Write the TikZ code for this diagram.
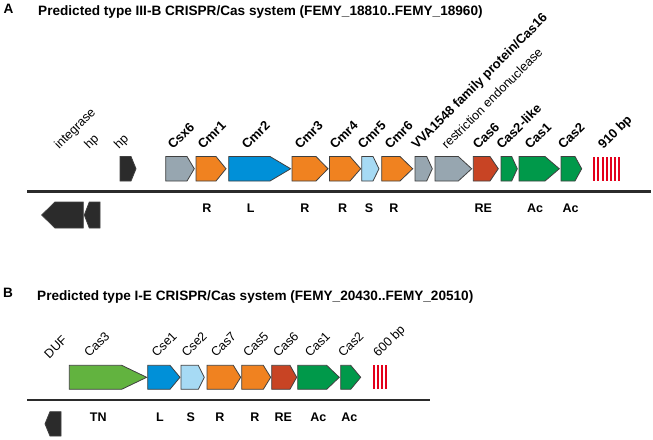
\documentclass[tikz,border=0pt]{standalone}
\usepackage{fontspec}
\setmainfont{Liberation Sans}
\usetikzlibrary{positioning}

\definecolor{gnblack}{RGB}{43,43,43}
\definecolor{gngrey}{RGB}{151,166,176}
\definecolor{gnorange}{RGB}{240,130,32}
\definecolor{gnblue}{RGB}{0,144,216}
\definecolor{gnlblue}{RGB}{166,218,244}
\definecolor{gnred}{RGB}{200,68,36}
\definecolor{gngreen}{RGB}{0,153,74}
\definecolor{gnlgreen}{RGB}{98,179,63}
\definecolor{crred}{RGB}{227,0,27}

% forward / reverse gene arrows: x start, tip start, x end, y top, y bottom, colour
\newcommand{\fwdgene}[6]{\draw[gene,fill=#6] (#1,#4) -- (#2,#4) -- ({#3},{(#4+#5)/2}) -- (#2,#5) -- (#1,#5) -- cycle;}
\newcommand{\revgene}[6]{\draw[gene,fill=#6] ({#1},{(#4+#5)/2}) -- (#2,#4) -- (#3,#4) -- (#3,#5) -- (#2,#5) -- cycle;}

\begin{document}
\begin{tikzpicture}[x=1pt, y=-1pt,
  gene/.style={draw=black!75, line width=0.8pt},
  glab/.style={rotate=45, anchor=base west, inner sep=0pt, font=\fontsize{13}{13}\selectfont\bfseries},
  nlab/.style={rotate=45, anchor=base west, inner sep=0pt, font=\fontsize{12.6}{12.6}\selectfont},
  role/.style={anchor=base, inner sep=0pt, font=\fontsize{12.5}{12.5}\selectfont\bfseries},
  head/.style={anchor=base west, inner sep=0pt, font=\fontsize{13.6}{13.6}\selectfont\bfseries},
  crispr/.style={draw=crred, line width=2pt}]
\useasboundingbox (0,0) rectangle (653,439);

\node[head] (pA) at (3.5,13.5) {A};
\node[head] (tA) at (38,16) {Predicted type III-B CRISPR/Cas system (FEMY\_18810..FEMY\_18960)};

\draw[line width=3pt, gnblack] (27,191) -- (651,191);

\fwdgene{120}{131}{136}{156.5}{181}{gnblack}
\fwdgene{165.7}{187}{194.3}{156.5}{181}{gngrey}
\fwdgene{196}{216}{226}{156.5}{181}{gnorange}
\fwdgene{228.7}{270}{290.7}{156.5}{181}{gnblue}
\fwdgene{292}{316}{328}{156.5}{181}{gnorange}
\fwdgene{329.5}{350}{360.7}{156.5}{181}{gnorange}
\fwdgene{361.7}{373}{379}{156.5}{181}{gnlblue}
\fwdgene{381.7}{400}{412.7}{156.5}{181}{gnorange}
\fwdgene{415}{426.7}{432.3}{156.5}{181}{gngrey}
\fwdgene{435}{458.3}{471.7}{156.5}{181}{gngrey}
\fwdgene{473.3}{490}{498.3}{156.5}{181}{gnred}
\fwdgene{501}{511.7}{517.3}{156.5}{181}{gngreen}
\fwdgene{519}{545}{559.3}{156.5}{181}{gngreen}
\fwdgene{561}{575}{581.7}{156.5}{181}{gngreen}
\revgene{41.7}{55}{83.3}{202}{228}{gnblack}
\revgene{84.3}{89.3}{100}{202}{228}{gnblack}
\foreach \i in {0,...,6}
  \draw[crispr] ({594.3+4.12*\i},157.3) -- ({594.3+4.12*\i},180.7);

\node[nlab] (lint) at (59.3,150) {integrase};
\node[nlab] (lhp1) at (89.3,150) {hp};
\node[nlab] (lhp2) at (119,150) {hp};
\node[glab] (lcsx6) at (173,150) {Csx6};
\node[glab] (lcmr1) at (203,150) {Cmr1};
\node[glab] (lcmr2) at (247,150) {Cmr2};
\node[glab] (lcmr3) at (300,150) {Cmr3};
\node[glab] (lcmr4) at (335,150) {Cmr4};
\node[glab] (lcmr5) at (363,150) {Cmr5};
\node[glab] (lcmr6) at (390,150) {Cmr6};
\node[glab] (lvva) at (416.7,150) {VVA1548 family protein/Cas16};
\node[nlab] (lres) at (446.7,150) {restriction endonuclease};
\node[glab] (lcas6) at (478,150) {Cas6};
\node[glab] (lcas2l) at (501.7,150) {Cas2-like};
\node[glab] (lcas1) at (530,150) {Cas1};
\node[glab] (lcas2) at (563.3,150) {Cas2};
\node[glab] (lbpA) at (603.3,150) {910 bp};

\node[role] (rA1) at (207,212.5) {R};
\node[role] (rA2) at (250.7,212.5) {L};
\node[role] (rA3) at (305,212.5) {R};
\node[role] (rA4) at (342.7,212.5) {R};
\node[role] (rA5) at (369,212.5) {S};
\node[role] (rA6) at (394,212.5) {R};
\node[role] (rA7) at (483.3,212.5) {RE};
\node[role] (rA8) at (535,212.5) {Ac};
\node[role] (rA9) at (570.7,212.5) {Ac};

\node[head] (pB) at (3,297) {B};
\node[head] (tB) at (37,300.7) {Predicted type I-E CRISPR/Cas system (FEMY\_20430..FEMY\_20510)};

\draw[line width=1.8pt, gnblack] (27,400) -- (430,400);

\fwdgene{69.3}{121.7}{146.7}{365.3}{389.3}{gnlgreen}
\fwdgene{147.7}{170}{180}{365.3}{389.3}{gnblue}
\fwdgene{181}{198.3}{204.3}{365.3}{389.3}{gnlblue}
\fwdgene{207}{233.3}{240.7}{365.3}{389.3}{gnorange}
\fwdgene{241.7}{263.3}{270.7}{365.3}{389.3}{gnorange}
\fwdgene{271.7}{290}{296.7}{365.3}{389.3}{gnred}
\fwdgene{297.7}{326.7}{339.3}{365.3}{389.3}{gngreen}
\fwdgene{340.7}{350.7}{360.7}{365.3}{389.3}{gngreen}
\revgene{45}{50}{61}{411.7}{436}{gnblack}
\foreach \i in {0,...,3}
  \draw[crispr] ({373.7+4.2*\i},365.3) -- ({373.7+4.2*\i},389.3);

\node[nlab] (lduf) at (49.3,359.5) {DUF};
\node[nlab] (lbcas3) at (89.3,358) {Cas3};
\node[nlab] (lcse1) at (156.7,358) {Cse1};
\node[nlab] (lcse2) at (186.7,358) {Cse2};
\node[nlab] (lbcas7) at (216,358) {Cas7};
\node[nlab] (lbcas5) at (248.3,358) {Cas5};
\node[nlab] (lbcas6) at (278.3,358) {Cas6};
\node[nlab] (lbcas1) at (310,358) {Cas1};
\node[nlab] (lbcas2) at (343.3,358) {Cas2};
\node[nlab] (lbpB) at (378.3,358) {600 bp};

\node[role] (rB1) at (98.3,421.5) {TN};
\node[role] (rB2) at (160,421.5) {L};
\node[role] (rB3) at (190.7,421.5) {S};
\node[role] (rB4) at (220,421.5) {R};
\node[role] (rB5) at (255,421.5) {R};
\node[role] (rB6) at (283.3,421.5) {RE};
\node[role] (rB7) at (318.3,421.5) {Ac};
\node[role] (rB8) at (349.3,421.5) {Ac};
\end{tikzpicture}
\end{document}
